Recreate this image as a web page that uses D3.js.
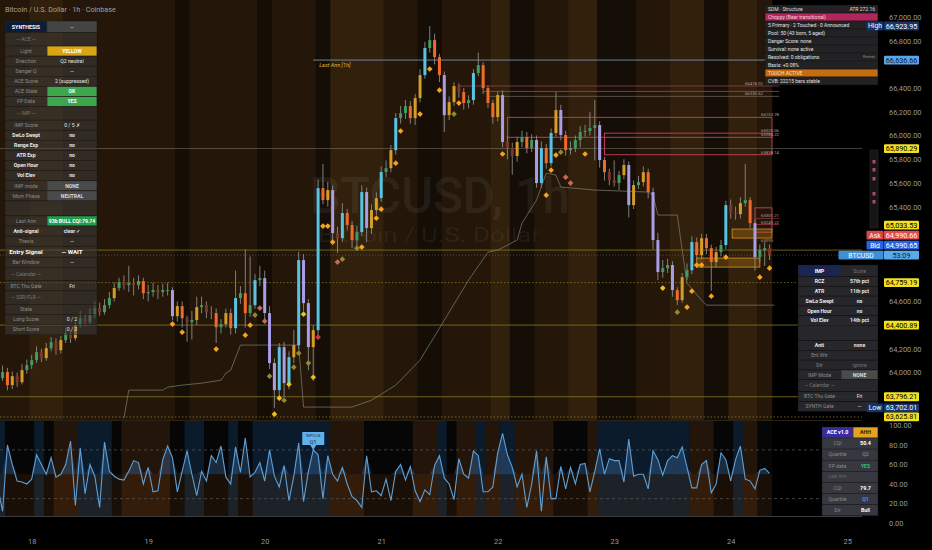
<!DOCTYPE html>
<html><head><meta charset="utf-8">
<script src="https://cdn.jsdelivr.net/npm/d3@7"></script>
<style>
html,body{margin:0;padding:0;background:#000;}
svg{display:block;font-family:Roboto,"Noto Sans",sans-serif;}
</style></head><body>
<svg id="c" width="932" height="550"></svg>
<script>
// ---------------- DATA ----------------
const startTime = Date.UTC(2025,10,17,17); // first bar: 17th 17:00, hourly bars
const firstOpen = 63990;
const closes = [
63953,64004,63894,63970,63919,64021,64063,
64105,64172,64122,64206,64257,64189,
64274,64333,64291,64400,64459,64426,
64485,64544,64510,64569,64628,64713,64763,64738,
64755,64738,64772,64670,64679,64696,64679,64696,64696,
64476,64561,64459,64426,64443,64552,64569,64510,64502,64383,64409,64502,64375,
64628,64670,64502,64569,64780,64797,64502,64080,63852,64215,63911,64130,64232,64949,64586,64215,64358,
65556,65455,65540,65177,65134,65346,65245,65118,65185,65523,65219,65371,65472,65692,
65725,65877,66147,66189,66248,66147,66316,66510,66738,66805,66662,66510,66172,66282,66417,66367,66274,66299,
66527,66594,66400,66274,66156,66341,65945,65894,65827,65945,65987,65894,65962,65599,65894,65767,66021,66215,66004,65877,65894,65962,
66029,66038,66063,66088,65793,65691,65624,65599,65666,65751,65413,65582,65607,65691,65523,65118,64848,64881,64907,
64696,64611,64805,64864,65101,64991,65134,65050,64932,65016,65076,65413,65346,65337,65430,65455,65261,64974,65034,65050,64991];
const highs = [
64030,64060,64040,64010,64000,64070,64110,
64150,64220,64200,64250,64300,64290,
64310,64380,64360,64430,64520,64490,
64540,64600,64590,64620,64680,64760,64800,64820,
64900,64800,64820,64800,64740,64760,64740,64750,64760,
64720,64600,64600,64480,64520,64640,64640,64600,64560,64540,64450,64540,64540,
64860,64730,65040,64980,64830,64900,64860,64560,64120,64250,64260,64180,64360,65020,65000,64620,64400,
65630,65760,65610,65580,65230,65430,65380,65280,65240,65580,65560,65420,65520,65740,
65790,65920,66190,66250,66300,66290,66350,66560,66790,66924,66860,66690,66540,66330,66450,66440,66400,66340,
66560,66700,66620,66420,66300,66370,66380,66000,65940,65990,66040,66030,66010,66000,65950,65930,66060,66370,66260,66040,65950,66000,
66080,66090,66200,66300,66120,65820,65720,65790,65700,65800,65780,65620,65660,65740,65720,65560,65180,64950,64960,
64940,64720,64840,64920,65150,65140,65170,65170,65080,65060,65120,65450,65460,65400,65480,65760,65480,65290,65080,65100,65080];
const lows = [
63900,63930,63850,63860,63880,63900,63990,
64030,64080,64090,64100,64180,64150,
64160,64250,64250,64270,64380,64390,
64400,64460,64480,64490,64540,64600,64690,64700,
64680,64650,64700,64620,64600,64640,64620,64640,64650,
64440,64430,64380,64260,64280,64400,64500,64460,64450,64250,64330,64380,64320,
64330,64580,64380,64470,64540,64730,64450,64030,63702,63800,63790,63860,64080,64200,64520,64020,63930,
64300,65420,65400,65120,65010,65100,65200,65050,65030,65150,65100,65170,65330,65440,
65650,65690,65840,66100,66140,66100,66090,66280,66480,66700,66600,66450,66030,66130,66250,66320,66220,66230,
66260,66500,66350,66230,66100,66120,65900,65800,65670,65780,65900,65850,65860,65560,65560,65720,65740,65990,65960,65830,65840,65860,
65900,65990,66000,65790,65730,65620,65580,65570,65540,65630,65310,65380,65550,65570,65470,65040,64780,64800,64840,
64640,64570,64590,64780,64830,64950,64960,65000,64690,64890,64980,65040,65300,65290,65300,65400,65220,64860,64930,64900,64950];
const oscValues = [
37,12,80,60,43,42,40,
45,70,60,50,67,47,50,60,84,18,
77,30,60,48,16,83,53,48,45,44,
53,64,62,40,57,32,33,65,79,67,
32,53,74,50,28,53,43,69,62,79,
47,40,78,52,87,47,52,62,43,75,
48,37,59,23,48,82,22,53,75,70,
25,69,50,43,57,40,27,23,16,69,
32,33,28,45,23,53,60,44,58,33,
22,34,29,59,69,46,40,24,66,50,
46,74,69,32,32,37,72,92,70,57,
37,50,16,40,74,12,68,25,25,58,
35,57,40,60,61,32,53,76,50,66,
64,64,42,86,48,50,50,35,74,65,
49,64,69,67,78,57,36,36,60,64,
31,40,72,65,43,65,79,45,43,35,
54,56,51];
// background regime runs [firstBar, lastBar, level]
const mainBgRuns = [[0,6,1],[7,13,2],[14,36,1],[37,39,0],[40,53,1],[54,56,0],[57,65,1],[66,68,0],[69,79,2],[80,86,1],[87,91,0],[92,101,1],[102,105,2],[106,110,0],[111,117,1],[118,123,2],[124,131,0],[132,138,1],[139,145,2],[146,150,0],[151,156,2],[157,159,1]];
const oscBgRuns = [[0,1,1],[2,7,0],[8,9,1],[10,11,0],[12,16,2],[17,23,1],[24,25,0],[26,35,2],[36,38,0],[39,42,1],[43,47,0],[48,49,1],[50,52,0],[53,68,1],[69,75,2],[76,85,0],[86,90,2],[91,92,1],[93,94,0],[95,98,2],[99,100,1],[101,103,2],[104,106,1],[107,114,2],[115,121,0],[122,123,2],[124,142,1],[143,147,2],[148,151,0],[152,153,1],[154,156,2],[157,159,0]];
// signal diamonds
const diamondIdx = [36,38,45,51,52,53,54,55,56,57,58,59,60,61,62,63,64,65,66,67,68,69,70,71,74,75,78,79,82,83,87,89,91,94,95,104,113,114,115,116,117,118,121,137,140,142,143,144,145,147,150,157,159];
const diamondPrice = [64409,64341,64198,64316,64400,64485,64544,64434,63970,63649,63784,63767,63902,64046,64164,64493,64080,63961,64299,65236,65236,65101,64932,64957,65050,65059,65303,65379,65767,66038,66181,66561,66383,66181,66274,65844,65497,65708,65835,65860,65649,65599,65844,64713,64510,64552,64687,64907,64907,64645,64974,64805,64881];
const diamondKind = "ooooovppvyyvyvvyvyrooopvvoooooooovooooovppoyvoooooooooo".slice(0,53).split("");
// trailing step level
const trailIdx = [26,27,34,35,38,42,46,47,48,50,62,63,73,77,82,87,92,97,101,103,107,108,111,113,115,116,123,134,135,136,140,141,142,145,146,160];
const trailPrice = [63615,63852,63852,63877,63894,63911,63936,63995,64021,64232,64232,63709,63709,63767,63894,64105,64442,64780,65016,65033,65118,65261,65455,65683,65666,65565,65540,65523,65497,65329,65329,65033,64755,64611,64569,64569];
// key horizontal levels
const lastAnnLevel = 66636.66, lastAnnIdx = 65;
const levelGray = 65890.29;
const levelsSolid = [65033.53, 64400.89, 63796.21];
const levelsDotted = [64759.19, 63625.81];
const currentPrice = 64990.65, askPrice = 64990.66, bidPrice = 64990.65;
const highPrice = 66923.95, lowPrice = 63702.01;
// zone lines [price, fromIdx, label]
const zoneLines = [[66418.02,95,"66418.02"],[66372.40,100,""],[66330.62,101,"66330.62"]];
// zone boxes [top, bottom, fromIdx, toIdx, type]
const zoneBoxes = [[66153.78,65985.22,105,159.5,"r"],[66020.06,65838.14,125,159.5,"r"],[65390,65185,156,159.5,"r"],[65211,65135,151.3,159.5,"g"],[64966,64890,144,157,"g"]];
const zoneLabels = [[66153.78,"66153.78"],[66020.06,"66020.06"],[65985.22,"65985.22"],[65838.14,"65838.14"],[65301.21,"65301.21"],[65249.22,"65249.22"],[65095.00,"65095"]];
const priceTicks = d3.range(63800, 67001, 200);
const oscTicks = [0,20,40,60,80,100];
const dayTicks = [18,19,20,21,22,23,24,25];

// ---------------- SETUP ----------------
const W=932,H=550, PR=862;
const svg=d3.select("#c");
const T = k => new Date(startTime + k*3600e3);
const x = d3.scaleUtc().domain([new Date(Date.UTC(2025,10,18)), new Date(Date.UTC(2025,10,24))]).range([31.7, 730.7]);
const xs = k => x(T(k));
const bw = xs(1)-xs(0);
const y = d3.scaleLinear().domain([63600, 67143.5]).range([420, 0]);
const yo = d3.scaleLinear().domain([0,100]).range([523, 425.5]);
const opens = closes.map((c,i)=> i===0 ? firstOpen : closes[i-1]);

svg.append("rect").attr("width",W).attr("height",H).attr("fill","#000");
const defs=svg.append("defs");
defs.append("clipPath").attr("id","cm").append("rect").attr("x",0).attr("y",0).attr("width",PR).attr("height",420);
defs.append("clipPath").attr("id","co").append("rect").attr("x",0).attr("y",420).attr("width",PR).attr("height",96);

// ---------------- MAIN PANE ----------------
const gm = svg.append("g").attr("clip-path","url(#cm)");
const mainBgColors = ["#140e07","#241709","#31200b"];
gm.selectAll("rect.bg").data(mainBgRuns).join("rect")
  .attr("x",d=>xs(d[0])-bw/2).attr("width",d=>xs(d[1])-xs(d[0])+bw+0.3)
  .attr("y",0).attr("height",420).attr("fill",d=>mainBgColors[d[2]]);

// watermark
gm.append("text").attr("x",310).attr("y",213).attr("font-size",50).attr("font-weight",500)
  .attr("fill","rgba(255,255,255,0.06)").attr("textLength",260).attr("lengthAdjust","spacingAndGlyphs").text("BTCUSD, 1h");
gm.append("text").attr("x",318).attr("y",242).attr("font-size",20)
  .attr("fill","rgba(255,255,255,0.06)").attr("textLength",222).attr("lengthAdjust","spacingAndGlyphs").text("Bitcoin / U.S. Dollar");

// levels
const hline=(p,x0,x1,col,w,dash,op)=>gm.append("line").attr("x1",x0).attr("x2",x1).attr("y1",y(p)).attr("y2",y(p))
  .attr("stroke",col).attr("stroke-width",w).attr("stroke-dasharray",dash||null).attr("opacity",op||1);
hline(levelGray,0,PR,"#8f877a",0.8,null,0.6);
levelsSolid.forEach(p=>hline(p,0,PR,"#8c7d22",0.9,null,0.85));
levelsDotted.forEach(p=>hline(p,0,PR,"#9a8a2a",0.8,"1.5,2",0.85));
hline(currentPrice,0,PR,"#9a9a9a",0.7,"1,2",0.55);
hline(lastAnnLevel,xs(lastAnnIdx),PR,"#88b2d8",0.9,null,0.8);
gm.append("text").attr("x",xs(lastAnnIdx)+6).attr("y",y(lastAnnLevel)+7).attr("font-size",5.5).attr("font-style","italic")
  .attr("fill","#e0b23a").text("Last Ann [1h]");

// zone lines & boxes
zoneLines.forEach(z=>hline(z[0],xs(z[1]),xs(161),z[2]==="66418.02"?"#b8405a":"#7d6e66",0.8,null,0.85));
zoneBoxes.forEach(b=>{
  gm.append("rect").attr("x",xs(b[2])).attr("width",xs(b[3])-xs(b[2])).attr("y",y(b[0])).attr("height",y(b[1])-y(b[0]))
    .attr("fill",b[4]==="g"?"rgba(205,135,20,0.30)":"none").attr("stroke",b[4]==="g"?"#c88a22":"#c8405e").attr("stroke-width",0.9);
});
hline(65301.21,xs(156),xs(161),"#c8405e",0.7,null,0.8);
hline(65249.22,xs(156),xs(161),"#c8405e",0.7,null,0.8);
zoneLabels.forEach(l=>gm.append("text").attr("x",761).attr("y",y(l[0])-1).attr("font-size",4.3).attr("fill","#a8a0a0").text(l[1]));
zoneLines.filter(z=>z[2]).forEach(z=>gm.append("text").attr("x",763).attr("text-anchor","end").attr("y",y(z[0])-1).attr("font-size",4.3).attr("fill","#a8a0a0").text(z[2]));

// trailing step line
gm.append("path").datum(trailIdx.map((k,i)=>[k,trailPrice[i]]))
  .attr("d",d3.line().x(d=>xs(d[0])).y(d=>y(d[1])))
  .attr("fill","none").attr("stroke","#8d8a80").attr("stroke-width",0.9).attr("opacity",0.7);

// candles
function candleColor(o,c){const d=c-o,a=Math.abs(d);
  if(d>=0) return a>200?"#58c4e4":a>70?"#d49e26":"#3f9d61";
  return a>200?"#a99de6":a>70?"#f06b2a":"#7e3629";}
const gc=gm.append("g");
closes.forEach((c,k)=>{
  const o=opens[k], cx=xs(k);
  gc.append("line").attr("x1",cx).attr("x2",cx).attr("y1",y(highs[k])).attr("y2",y(lows[k]))
    .attr("stroke","#8a8a8a").attr("stroke-width",0.9);
  const top=y(Math.max(o,c)), bot=y(Math.min(o,c));
  gc.append("rect").attr("x",cx-1.5).attr("width",3).attr("y",top).attr("height",Math.max(1,bot-top))
    .attr("fill",candleColor(o,c));
});

// diamonds
const dCol={o:"#f5a21f",y:"#e8c21e",v:"#8f8a32",p:"#c46b58",r:"#d2344a"};
diamondIdx.forEach((k,i)=>{
  gm.append("rect").attr("x",-2).attr("y",-2).attr("width",4).attr("height",4)
    .attr("transform",`translate(${xs(k)},${y(diamondPrice[i])}) rotate(45)`).attr("fill",dCol[diamondKind[i]]||"#f5a21f");
});

// ---------------- OSC PANE ----------------
const go=svg.append("g").attr("clip-path","url(#co)");
const oscBgColors=["#060606","#0b1b2b","#24150a"];
go.selectAll("rect.bg").data(oscBgRuns).join("rect")
  .attr("x",d=>xs(d[0])-bw/2).attr("width",d=>xs(d[1])-xs(d[0])+bw+0.3)
  .attr("y",420).attr("height",96).attr("fill",d=>oscBgColors[d[2]]);
go.append("rect").attr("x",0).attr("width",xs(159)+bw/2).attr("y",yo(50)).attr("height",516-yo(50)).attr("fill","rgba(200,100,20,0.10)");
go.append("path").datum(oscValues)
  .attr("d",d3.area().x((d,k)=>xs(k)).y0(yo(50)).y1(d=>yo(Math.max(50,d))))
  .attr("fill","rgba(80,140,210,0.28)");
[75,25].forEach(v=>go.append("line").attr("x1",0).attr("x2",PR).attr("y1",yo(v)).attr("y2",yo(v))
  .attr("stroke","#5a5a5a").attr("stroke-width",0.7).attr("stroke-dasharray","3,3"));
go.append("path").datum(oscValues).attr("d",d3.line().x((d,k)=>xs(k)).y(d=>yo(d)))
  .attr("fill","none").attr("stroke","#5e9fd6").attr("stroke-width",1.1);
// callout
{const cx=xs(65);
 go.append("path").attr("d",`M${cx-11},432 h22 v13 h-8 l-3,5 l-3,-5 h-8 z`).attr("fill","#63b1ec");
 go.append("text").attr("x",cx).attr("y",436.5).attr("text-anchor","middle").attr("font-size",3.6).attr("fill","#123456").text("IMPULSE");
 go.append("text").attr("x",cx).attr("y",443.5).attr("text-anchor","middle").attr("font-size",5.5).attr("fill","#0d2744").text("Q1");}
svg.append("line").attr("x1",0).attr("x2",PR).attr("y1",420.5).attr("y2",420.5).attr("stroke","#2a2218").attr("stroke-width",1);
svg.append("line").attr("x1",0).attr("x2",PR).attr("y1",516.5).attr("y2",516.5).attr("stroke","#4a4a4a").attr("stroke-width",0.8);

// ---------------- PRICE BADGE POSITIONS ----------------
const yCur=y(currentPrice), yBid=Math.min(y(bidPrice),yCur-10), yAsk=Math.min(y(askPrice),yBid-10), y65=Math.min(y(levelsSolid[0]),yAsk-10);
const badgeYs=[y(highPrice),y(lastAnnLevel),y(levelGray),y65,yAsk,yBid,yCur,y(levelsDotted[0]),y(levelsSolid[1]),y(levelsSolid[2]),y(lowPrice),y(levelsDotted[1])];
const freeTicks = priceTicks.filter(p=>badgeYs.every(b=>Math.abs(b-y(p))>8.8));

// ---------------- AXES ----------------
const axStyle=g=>{g.select(".domain").remove();g.selectAll("text").attr("fill","#9598a1").attr("font-size",7.4).attr("font-family","Roboto,sans-serif");};
svg.append("g").attr("transform",`translate(${PR},0)`)
  .call(d3.axisRight(y).tickValues(freeTicks).tickFormat(d3.format(",.2f")).tickSize(0).tickPadding(27)).call(axStyle);
svg.append("g").attr("transform",`translate(${PR},0)`)
  .call(d3.axisRight(yo).tickValues(oscTicks).tickFormat(d3.format(".2f")).tickSize(0).tickPadding(27)).call(axStyle);
svg.append("g").attr("transform","translate(0,537)")
  .call(d3.axisBottom(x).tickValues(dayTicks.map(d=>new Date(Date.UTC(2025,10,d)))).tickFormat(d3.utcFormat("%-d")).tickSize(0).tickPadding(2)).call(axStyle);

// title
svg.append("text").attr("x",5).attr("y",11.5).attr("font-size",7.2).attr("fill","#b8b8b8").attr("opacity",0.85)
  .text("Bitcoin / U.S. Dollar · 1h · Coinbase");

// ---------------- TABLES ----------------
function drawTable(x0,y0,colW,rows,bg,stroke){
  const g=svg.append("g"); let yy=y0; const tw=d3.sum(colW);
  rows.forEach(r=>{
    g.append("rect").attr("x",x0).attr("y",yy).attr("width",tw).attr("height",r.h).attr("fill",bg).attr("stroke",stroke).attr("stroke-width",0.5);
    let xx=x0;
    r.cells.forEach((c,j)=>{
      const w=c.span?tw-(xx-x0):colW[j];
      if(c.bg) g.append("rect").attr("x",xx+0.4).attr("y",yy+0.4).attr("width",w-0.8).attr("height",r.h-0.8).attr("fill",c.bg);
      if(c.t) g.append("text").attr("x",c.left?xx+3:xx+w/2).attr("y",yy+r.h/2).attr("dy","0.35em")
        .attr("text-anchor",c.left?"start":"middle").attr("font-size",c.fs||5.1).attr("font-weight",c.b?700:400)
        .attr("fill",c.fg||"#e2e2e2").text(c.t);
      if(c.rt) g.append("text").attr("x",xx+w-3).attr("y",yy+r.h/2).attr("dy","0.35em").attr("text-anchor","end")
        .attr("font-size",c.rfs||4.2).attr("fill",c.rfg||"#8a8a8a").text(c.rt);
      xx+=w;
    });
    yy+=r.h;
  });
}
const DIM="#8c8c8c", WHT="#ececec";
function rowsFrom(spec,hN){
  return spec.map(s=>{
    const [a,b,k,vbg,vfg]=s;
    if(k==="hdr") return {h:11.5,cells:[{t:a,bg:"#0c1d3a",fg:"#fff",b:1,fs:5.3},{t:b,bg:"#444",fg:vfg||"#ddd",b:0,fs:5}]};
    if(k==="sec") return {h:13.5,cells:[{t:a,fg:"#777",fs:5},{t:""}]};
    if(k==="empty") return {h:15,cells:[{t:""},{t:""}]};
    if(k==="big") return {h:11,cells:[{t:a,fg:"#fff",b:1,fs:6.2},{t:b,fg:"#fff",b:1,fs:6.2}]};
    return {h:hN,cells:[{t:a,fg:k==="wht"?WHT:DIM,b:k==="wht",fs:5.1},{t:b,bg:vbg,fg:vfg||"#e6e6e6",b:!!vbg||k==="wht",fs:5.1}]};
  });
}
const synthRows=[
 ["SYNTHESIS","—","hdr"],["— ACE —","","sec"],
 ["Light","YELLOW","dim","#d9a514","#fff"],["Direction","Q2 neutral","dim"],["Danger Q","—","dim"],
 ["ACE Score","2 (suppressed)","dim"],["ACE State","OK","dim","#3ea64c","#fff"],["FP Data","YES","dim","#3ea64c","#fff"],
 ["— IMP —","","sec"],["IMP Score","0 / 5  ✗","dim"],["SwLo Swept","no","wht"],["Range Exp","no","wht"],
 ["ATR Exp","no","wht"],["Open Hour","no","wht"],["Vol Elev","no","wht"],["IMP mode","NONE","dim","#4a4a4a","#ddd"],
 ["Mom Phase","NEUTRAL","dim","#4a4a4a","#ddd"],["","","empty"],["Last Ann","93b BULL CQI:79.74","dim","#1f9e4e","#fff"],
 ["Anti-signal","clear ✓","wht"],["Thesis","—","dim"],["Entry Signal","— WAIT","big"],["Bar Window","—","dim"],
 ["— Calendar —","","sec"],["BTC Thu Gate","Fri","dim"],["— SSR/FLR —","","sec"],["State","","dim"],
 ["Long Score","0 / 2","dim"],["Short Score","0 / 3","dim"]];
drawTable(5,21,[42,50],rowsFrom(synthRows,10.1),"rgba(62,60,58,0.55)","rgba(15,15,15,0.55)");

const impRows=[
 ["IMP","Score","hdr",null,"#777"],["RCZ","57th pct","wht"],["ATR","11th pct","wht"],["SwLo Swept","no","wht"],
 ["Open Hour","no","wht"],["Vol Elev","14th pct","wht"],["","","empty"],["Anti","none","wht"],["Ent Wtr","","dim"],
 ["Dir","ignore","dim",null,"#777"],["IMP Mode","NONE","dim","#4a4a4a","#ddd"],["— Calendar —","","sec"],
 ["BTC Thu Gate","Fri","dim"],["SYNTH Gate","—","dim"]];
const impR=rowsFrom(impRows,9.8); impR[0].cells[0].bg="#1b2552"; impR[0].cells[1].bg=null; impR[11].h=12;
drawTable(798,265,[43,37],impR,"rgba(42,42,46,0.93)","rgba(10,10,10,0.6)");

const aceRows=[
 {h:11,cells:[{t:"ACE v1.0",bg:"#3a2ba0",fg:"#fff",b:1,fs:5.3},{t:"AHH",bg:"#e6a21e",fg:"#2a1a00",b:1,fs:5.3}]},
 {h:11.1,cells:[{t:"CQI",fg:DIM},{t:"50.4",fg:"#fff",b:1,fs:5.4}]},
 {h:11.1,cells:[{t:"Quartile",fg:DIM},{t:"Q2",fg:"#9a9a9a"}]},
 {h:11.1,cells:[{t:"FP data",fg:DIM},{t:"YES",fg:"#2ec46c",b:1}]},
 {h:11.1,cells:[{t:"Last Ann",fg:"#6a6a6a",fs:4.6},{t:""}]},
 {h:11.1,cells:[{t:"CQI",fg:DIM},{t:"79.7",fg:"#fff",b:1,fs:5.4}]},
 {h:11.1,cells:[{t:"Quartile",fg:DIM},{t:"Q1",fg:"#4a95f0",b:1}]},
 {h:11.1,cells:[{t:"Dir",fg:DIM},{t:"Bull",fg:"#fff",b:1}]}];
drawTable(822,427,[31,25],aceRows,"rgba(58,58,66,0.95)","rgba(20,20,20,0.6)");

const sdmRows=[
 {h:8,cells:[{t:"SDM · Structure",left:1,fg:"#ddd",fs:5,rt:"ATR 272.16",rfs:5,rfg:"#ddd"}]},
 {h:8,cells:[{t:"Choppy (Bear transitional)",left:1,bg:"#b3265c",fg:"#f4d0dc",fs:5}]},
 {h:8,cells:[{t:"5 Primary · 2 Touched · 0 Announced",left:1,fs:5}]},
 {h:8,cells:[{t:"Pool: 50 (43 born, 5 aged)",left:1,fs:5}]},
 {h:8,cells:[{t:"Danger Score: none",left:1,fs:5}]},
 {h:8,cells:[{t:"Survival: none active",left:1,fs:5}]},
 {h:8,cells:[{t:"Resolved: 0 obligations",left:1,fs:5,rt:"Retest"}]},
 {h:8,cells:[{t:"Basis: +0.08%",left:1,fs:5}]},
 {h:8,cells:[{t:"TOUCH ACTIVE",left:1,bg:"#c46c0e",fg:"#fbe3c0",fs:5}]},
 {h:8,cells:[{t:"CVB: 22215 bars stable",left:1,fs:5}]}];
drawTable(765,5,[113],sdmRows,"rgba(36,36,38,0.94)","rgba(10,10,10,0.5)");

// right-edge marker strip
svg.append("rect").attr("x",870).attr("y",150).attr("width",8).attr("height",78).attr("fill","#141414").attr("stroke","#333").attr("stroke-width",0.5);
[160,168,177,192,200].forEach(v=>svg.append("rect").attr("x",872.5).attr("y",v).attr("width",3).attr("height",3.5).attr("fill","#b04a6a"));

// ---------------- PRICE BADGES ----------------
function badge(yc,val,bg,fg,tag,tagBg,tagFg,tagW){
  svg.append("rect").attr("x",884).attr("y",yc-4.4).attr("width",35).attr("height",8.8).attr("fill",bg).attr("rx",1);
  svg.append("text").attr("x",901.5).attr("y",yc).attr("dy","0.35em").attr("text-anchor","middle").attr("font-size",7.2).attr("fill",fg).text(val);
  if(tag){const w=tagW||17;
    svg.append("rect").attr("x",883.5-w).attr("y",yc-4.4).attr("width",w).attr("height",8.8).attr("fill",tagBg).attr("rx",1);
    svg.append("text").attr("x",883.5-w/2).attr("y",yc).attr("dy","0.35em").attr("text-anchor","middle").attr("font-size",6.8).attr("fill",tagFg).text(tag);}
}
const fmt=d3.format(",.2f"), Y="#f2e21e";
badge(y(highPrice),fmt(highPrice),"#17336a","#fff","High","#17336a","#fff");
badge(y(lastAnnLevel),fmt(lastAnnLevel),"#59a6ea","#0a1a30");
badge(y(levelGray),fmt(levelGray),Y,"#000");
badge(y65,fmt(levelsSolid[0]),Y,"#000");
badge(yAsk,fmt(askPrice),"#e24c4c","#fff","Ask","#d84646","#fff");
badge(yBid,fmt(bidPrice),"#2b62e3","#fff","Bid","#2b62e3","#fff");
badge(yCur,"53:09","#5aa9e8","#0b2038","BTCUSD","#3f8fd8","#fff",45);
badge(y(levelsDotted[0]),fmt(levelsDotted[0]),Y,"#000");
badge(y(levelsSolid[1]),fmt(levelsSolid[1]),Y,"#000");
badge(y(levelsSolid[2]),fmt(levelsSolid[2]),Y,"#000");
badge(y(lowPrice),fmt(lowPrice),"#17336a","#fff","Low","#17336a","#fff");
badge(y(levelsDotted[1]),fmt(levelsDotted[1]),Y,"#000");
</script></body></html>
